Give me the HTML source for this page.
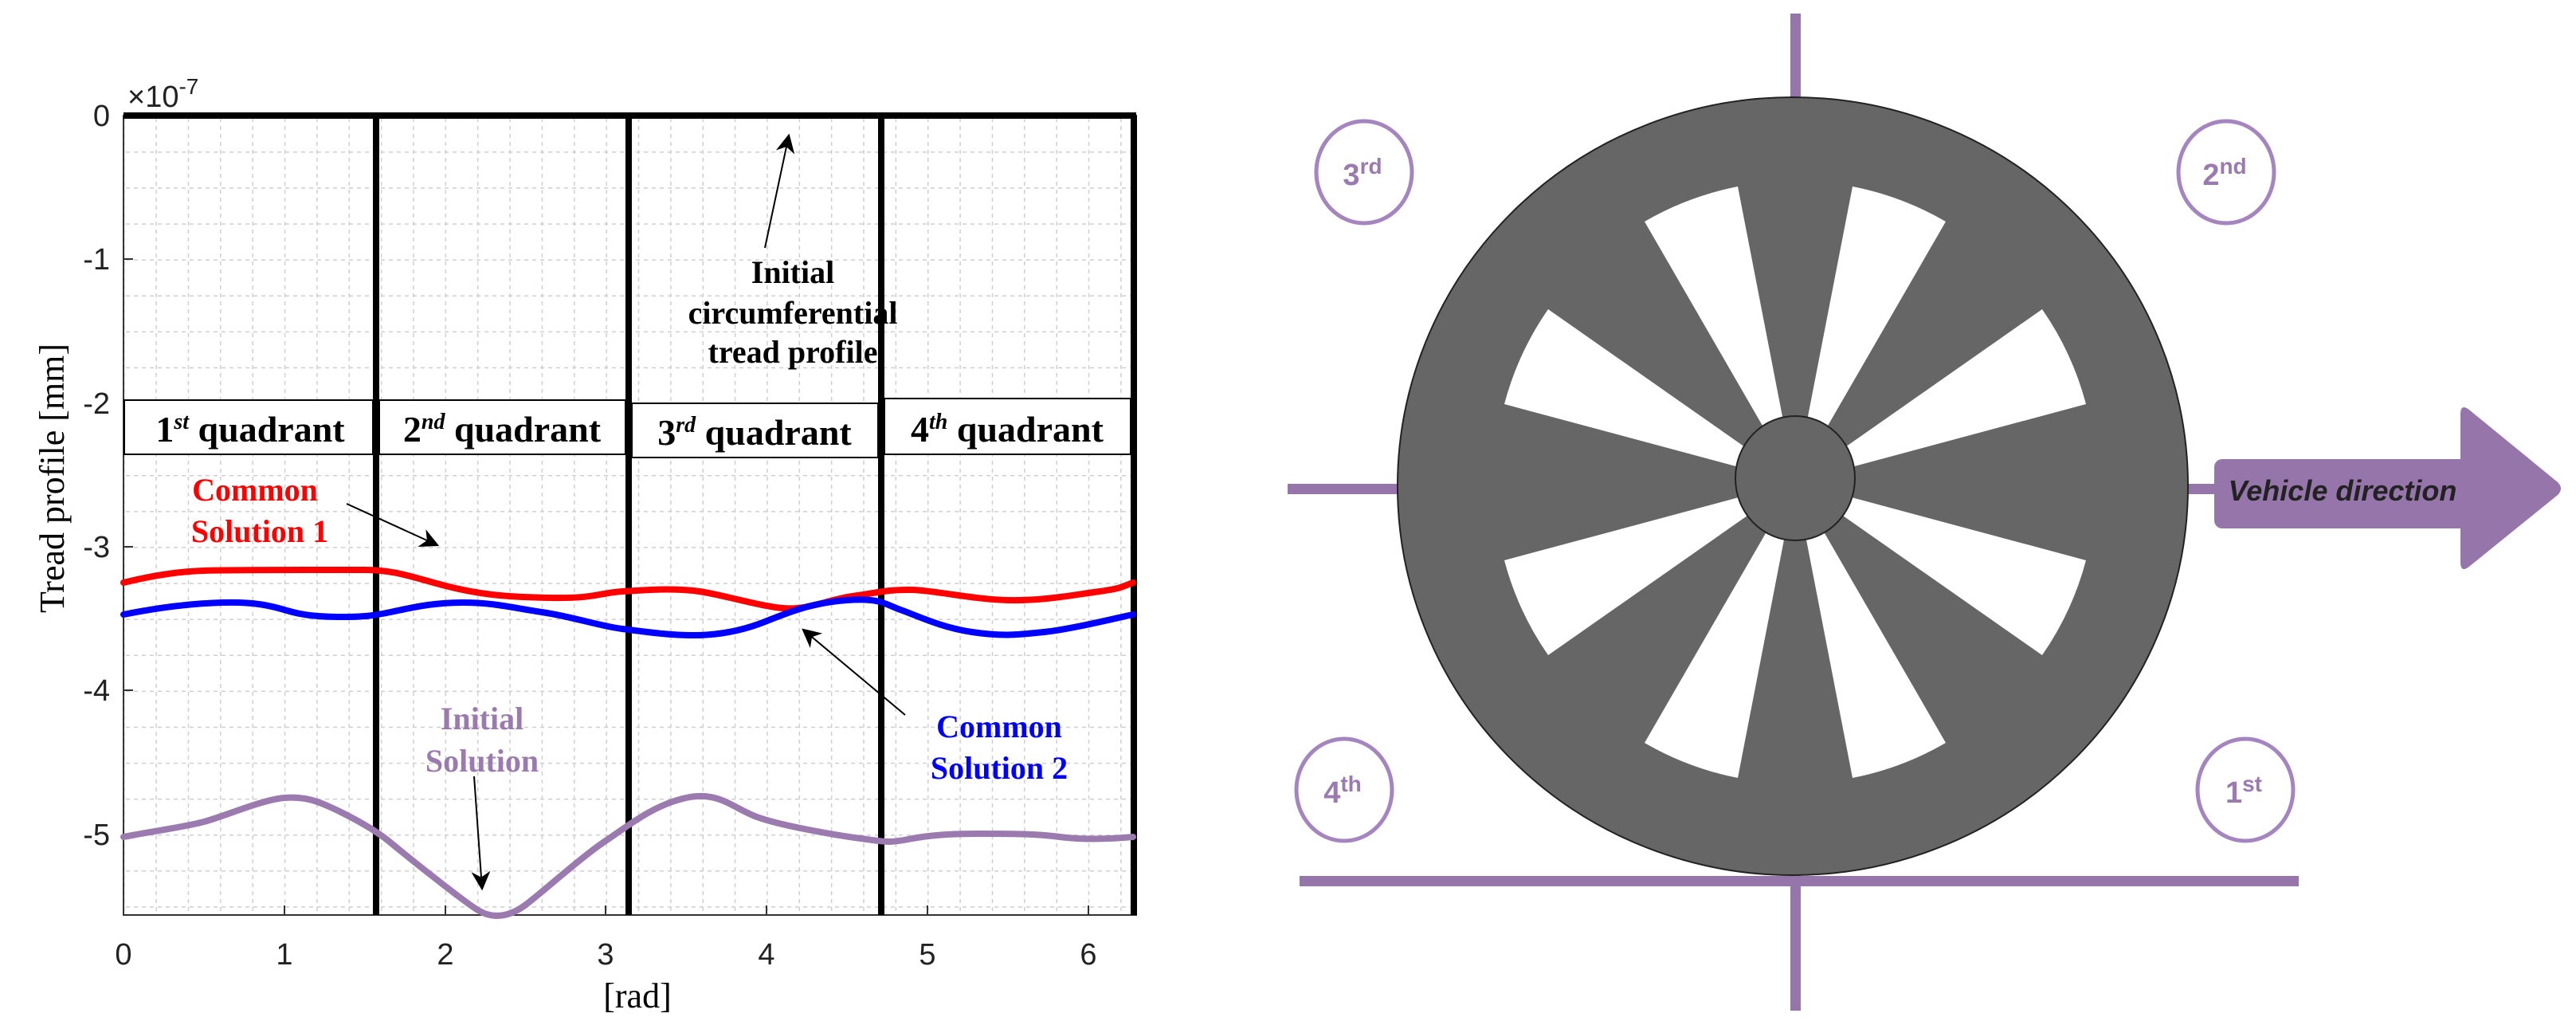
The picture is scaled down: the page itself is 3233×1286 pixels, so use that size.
<!DOCTYPE html>
<html><head><meta charset="utf-8"><style>
html,body{margin:0;padding:0;background:#fff;}
svg{display:block;}
.tk{font-family:"Liberation Sans",sans-serif;font-size:38px;fill:#222;}
.sf{font-family:"Liberation Serif",serif;font-weight:bold;font-size:40px;}
.qd{font-family:"Liberation Serif",serif;font-weight:bold;font-size:46px;}
</style></head><body>
<svg width="3233" height="1286" viewBox="0 0 3233 1286" xmlns="http://www.w3.org/2000/svg">
<defs>
<pattern id="gx" x="155" y="0" width="40.36" height="10" patternUnits="userSpaceOnUse"><line x1="0.5" y1="0" x2="0.5" y2="10" stroke="#cfcfcf" stroke-width="2" stroke-dasharray="3,5"/></pattern>
<pattern id="gy" x="0" y="145" width="10" height="45.1" patternUnits="userSpaceOnUse"><line x1="0" y1="0.5" x2="10" y2="0.5" stroke="#cfcfcf" stroke-width="2" stroke-dasharray="3,5"/></pattern>
<marker id="ah" viewBox="0 0 10 10" refX="9" refY="5" markerWidth="12" markerHeight="12" orient="auto"><path d="M0,0 L10,5 L0,10 L3,5 Z" fill="#000"/></marker>
</defs>
<rect x="155" y="145" width="1271" height="1003" fill="url(#gx)"/>
<rect x="155" y="145" width="1271" height="1003" fill="url(#gy)"/>
<rect x="155" y="145" width="1271" height="1003" fill="none" stroke="#333" stroke-width="2"/>
<g stroke="#333" stroke-width="2">
<line x1="155" y1="325" x2="167" y2="325"/><line x1="155" y1="506" x2="167" y2="506"/><line x1="155" y1="686" x2="167" y2="686"/><line x1="155" y1="866" x2="167" y2="866"/><line x1="155" y1="1047" x2="167" y2="1047"/>
<line x1="357" y1="1148" x2="357" y2="1136"/><line x1="559" y1="1148" x2="559" y2="1136"/><line x1="760" y1="1148" x2="760" y2="1136"/><line x1="962" y1="1148" x2="962" y2="1136"/><line x1="1164" y1="1148" x2="1164" y2="1136"/><line x1="1366" y1="1148" x2="1366" y2="1136"/>
</g>
<g class="tk" text-anchor="end">
<text x="138" y="158">0</text><text x="138" y="338">-1</text><text x="138" y="519">-2</text><text x="138" y="699">-3</text><text x="138" y="879">-4</text><text x="138" y="1060">-5</text>
</g>
<g class="tk" text-anchor="middle">
<text x="155" y="1210">0</text><text x="357" y="1210">1</text><text x="559" y="1210">2</text><text x="760" y="1210">3</text><text x="962" y="1210">4</text><text x="1164" y="1210">5</text><text x="1366" y="1210">6</text>
</g>
<text class="tk" x="160" y="134">×10<tspan dy="-16" font-size="28">-7</tspan></text>
<text x="800" y="1264" text-anchor="middle" font-family="Liberation Serif,serif" font-size="44">[rad]</text>
<text transform="translate(80,600) rotate(-90)" text-anchor="middle" font-family="Liberation Serif,serif" font-size="44">Tread profile [mm]</text>
<g stroke="#000" stroke-width="8">
<line x1="155" y1="145" x2="1426" y2="145"/>
<line x1="472" y1="145" x2="472" y2="1148"/><line x1="789" y1="145" x2="789" y2="1148"/><line x1="1106" y1="145" x2="1106" y2="1148"/><line x1="1423" y1="145" x2="1423" y2="1148"/>
</g>
<rect x="156" y="502" width="312" height="68" fill="#fff" stroke="#000" stroke-width="2"/>
<rect x="476" y="502" width="309" height="68" fill="#fff" stroke="#000" stroke-width="2"/>
<rect x="793" y="506" width="309" height="68" fill="#fff" stroke="#000" stroke-width="2"/>
<rect x="1110" y="500" width="309" height="70" fill="#fff" stroke="#000" stroke-width="2"/>
<g class="qd" text-anchor="middle">
<text x="314" y="554">1<tspan dy="-16" font-size="28" font-style="italic">st</tspan><tspan dy="16"> quadrant</tspan></text>
<text x="630" y="554">2<tspan dy="-16" font-size="28" font-style="italic">nd</tspan><tspan dy="16"> quadrant</tspan></text>
<text x="947" y="558">3<tspan dy="-16" font-size="28" font-style="italic">rd</tspan><tspan dy="16"> quadrant</tspan></text>
<text x="1264" y="554">4<tspan dy="-16" font-size="28" font-style="italic">th</tspan><tspan dy="16"> quadrant</tspan></text>
</g>
<g fill="none" stroke-width="8" stroke-linejoin="round" stroke-linecap="round">
<path stroke="#ff0000" d="M155,731 C200,720 230,717 256,716 S420,715 458,715 S520,725 559,735 S630,749 690,750 S750,744 781,742 S840,738 870,741 S950,760 982,763 S1040,752 1070,748 S1110,740 1140,740 S1220,752 1265,753 S1350,746 1380,742 S1410,735 1422,731"/>
<path stroke="#0000ff" d="M155,771 C200,762 240,757 280,756 S340,760 360,766 S400,774 430,774 S470,772 490,768 S540,756 580,756 S640,762 680,768 S750,785 781,789 S840,797 870,797 S930,792 960,780 S1020,756 1063,753 S1110,758 1130,765 S1180,787 1220,793 S1280,796 1310,793 S1390,778 1422,771"/>
<path stroke="#9b7baf" d="M155,1050 C190,1043 230,1038 256,1031 S330,1003 357,1001 S400,1005 430,1020 S478,1047 490,1057 S580,1130 600,1142 S640,1150 660,1135 S730,1075 760,1055 S820,1010 861,1001 S920,1014 950,1025 S1050,1048 1080,1052 S1115,1058 1140,1053 S1190,1046 1230,1046 S1300,1046 1330,1050 S1390,1053 1422,1050"/>
</g>
<g stroke="#000" stroke-width="2" marker-end="url(#ah)">
<line x1="960" y1="311" x2="990" y2="170"/>
<line x1="435" y1="632" x2="549" y2="684"/>
<line x1="595" y1="974" x2="605" y2="1115"/>
<line x1="1136" y1="897" x2="1008" y2="790"/>
</g>
<g class="sf" text-anchor="middle">
<text x="995" y="355">Initial</text><text x="995" y="406">circumferential</text><text x="995" y="455">tread profile</text>
<text x="320" y="628" fill="#ff0000">Common</text><text x="326" y="680" fill="#ff0000">Solution 1</text>
<text x="605" y="915" fill="#9b7baf">Initial</text><text x="605" y="968" fill="#9b7baf">Solution</text>
<text x="1254" y="925" fill="#0000ff">Common</text><text x="1254" y="977" fill="#0000ff">Solution 2</text>
</g>
<g fill="#9575aa">
<rect x="2247" y="17" width="13" height="110"/>
<rect x="2247" y="1095" width="13" height="173"/>
<rect x="1631" y="1099" width="1254" height="13"/>
<rect x="1616" y="607" width="145" height="13"/>
<rect x="2745" y="607" width="40" height="13"/>
<rect x="2779" y="576" width="320" height="87" rx="10"/>
<path d="M3088,520 Q3088,505 3100,515 L3210,605 Q3218,613 3210,621 L3100,710 Q3088,720 3088,705 Z"/>
</g>
<text x="2940" y="628" text-anchor="middle" font-family="Liberation Sans,sans-serif" font-style="italic" font-weight="bold" font-size="36" fill="#222">Vehicle direction</text>
<ellipse cx="2250" cy="610" rx="496" ry="488" fill="#666" stroke="#222" stroke-width="2"/>
<g fill="#fff">
<path d="M2253,605 L2618,507 A378,378 0 0 0 2563,388 Z"/>
<path d="M2253,605 L2442,278 A378,378 0 0 0 2325,234 Z"/>
<path d="M2253,605 L2181,234 A378,378 0 0 0 2064,278 Z"/>
<path d="M2253,605 L1943,388 A378,378 0 0 0 1888,507 Z"/>
<path d="M2253,605 L1888,703 A378,378 0 0 0 1943,822 Z"/>
<path d="M2253,605 L2064,932 A378,378 0 0 0 2181,976 Z"/>
<path d="M2253,605 L2325,976 A378,378 0 0 0 2442,932 Z"/>
<path d="M2253,605 L2563,822 A378,378 0 0 0 2618,703 Z"/>
</g>
<ellipse cx="2253" cy="600" rx="75" ry="78" fill="#666" stroke="#222" stroke-width="2"/>
<g fill="#fff" stroke="#a585c0" stroke-width="5">
<ellipse cx="1712" cy="216" rx="60" ry="64"/>
<ellipse cx="2794" cy="216" rx="60" ry="64"/>
<ellipse cx="1687" cy="991" rx="60" ry="64"/>
<ellipse cx="2818" cy="991" rx="60" ry="64"/>
</g>
<g font-family="Liberation Sans,sans-serif" font-weight="bold" font-size="38" fill="#9b7baf" text-anchor="middle">
<text x="1710" y="232">3<tspan dy="-14" font-size="28">rd</tspan></text>
<text x="2792" y="232">2<tspan dy="-14" font-size="28">nd</tspan></text>
<text x="1685" y="1007">4<tspan dy="-14" font-size="28">th</tspan></text>
<text x="2816" y="1007">1<tspan dy="-14" font-size="28">st</tspan></text>
</g>
</svg>
</body></html>
